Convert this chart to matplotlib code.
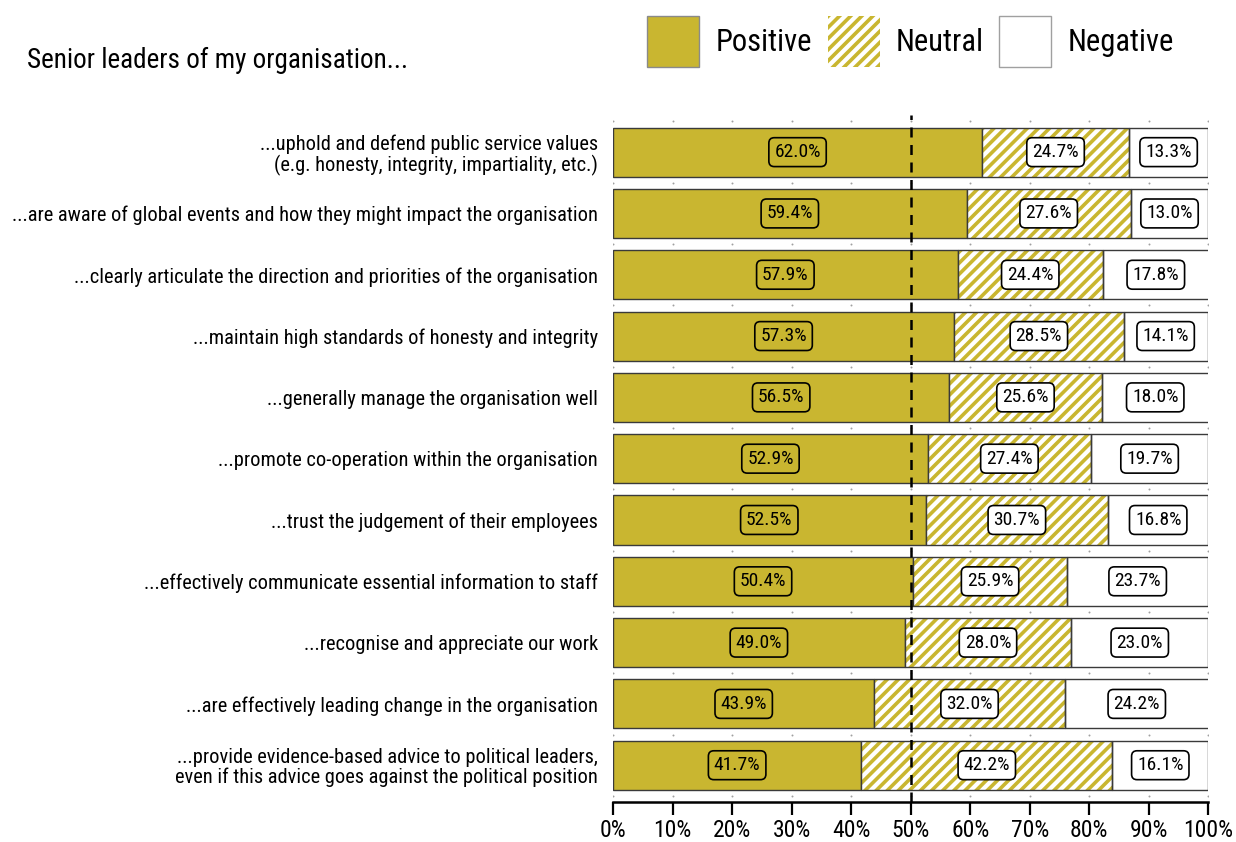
import matplotlib
matplotlib.use("Agg")
import matplotlib.pyplot as plt
from matplotlib.patches import Patch
import numpy as np

categories = [
    "...uphold and defend public service values\n(e.g. honesty, integrity, impartiality, etc.)",
    "...are aware of global events and how they might impact the organisation",
    "...clearly articulate the direction and priorities of the organisation",
    "...maintain high standards of honesty and integrity",
    "...generally manage the organisation well",
    "...promote co-operation within the organisation",
    "...trust the judgement of their employees",
    "...effectively communicate essential information to staff",
    "...recognise and appreciate our work",
    "...are effectively leading change in the organisation",
    "...provide evidence-based advice to political leaders,\neven if this advice goes against the political position",
]
positive = [62.0, 59.4, 57.9, 57.3, 56.5, 52.9, 52.5, 50.4, 49.0, 43.9, 41.7]
neutral = [24.7, 27.6, 24.4, 28.5, 25.6, 27.4, 30.7, 25.9, 28.0, 32.0, 42.2]
negative = [13.3, 13.0, 17.8, 14.1, 18.0, 19.7, 16.8, 23.7, 23.0, 24.2, 16.1]
xticks = [0, 10, 20, 30, 40, 50, 60, 70, 80, 90, 100]
title = "Senior leaders of my organisation..."
legend_labels = ["Positive", "Neutral", "Negative"]

OLIVE = "#C9B630"
EDGE = "#3a3a3a"

plt.rcParams["font.family"] = ["Roboto Condensed", "DejaVu Sans"]
plt.rcParams["hatch.linewidth"] = 2.6

fig = plt.figure(figsize=(12.36, 8.42), dpi=100)
ax = fig.add_axes([0.496, 0.0475, 0.4815, 0.8155])

y = np.arange(len(categories))
pos = np.array(positive)
neu = np.array(neutral)
neg = np.array(negative)
h = 0.8

# faint grid dots in the gaps between bars
gx, gy = np.meshgrid(xticks, np.arange(-0.5, len(categories), 1.0))
ax.scatter(gx.ravel(), gy.ravel(), s=2, color="#a0a0a0", zorder=1, linewidths=0)

ax.barh(y, pos, height=h, color=OLIVE, edgecolor=EDGE, linewidth=1.0, zorder=2)
ax.barh(y, neu, left=pos, height=h, color="white", edgecolor=OLIVE, hatch="///",
        linewidth=0, zorder=2)
ax.barh(y, neu, left=pos, height=h, fill=False, edgecolor=EDGE, linewidth=1.0, zorder=3)
ax.barh(y, neg, left=pos + neu, height=h, color="white", edgecolor=EDGE,
        linewidth=1.0, zorder=2)

box_kw = dict(boxstyle="round,pad=0.28,rounding_size=0.28", edgecolor="black", linewidth=1.2)
lab_fs = 14
for i in range(len(categories)):
    ax.text(pos[i] / 2, y[i], f"{pos[i]:.1f}%", ha="center", va="center", fontsize=lab_fs,
            zorder=5, bbox=dict(facecolor=OLIVE, **box_kw))
    ax.text(pos[i] + neu[i] / 2, y[i], f"{neu[i]:.1f}%", ha="center", va="center",
            fontsize=lab_fs, zorder=5, bbox=dict(facecolor="white", **box_kw))
    ax.text(pos[i] + neu[i] + neg[i] / 2, y[i], f"{neg[i]:.1f}%", ha="center", va="center",
            fontsize=lab_fs, zorder=5, bbox=dict(facecolor="white", **box_kw))

ax.axvline(50, color="black", linewidth=1.8, dashes=(4, 3), zorder=4)

ax.set_xlim(0, 100)
ax.set_ylim(len(categories) - 0.4, -0.6)
ax.set_yticks(y)
ax.set_yticklabels(categories, fontsize=14.7, ha="right", multialignment="right",
                   linespacing=1.05)
ax.tick_params(axis="y", length=0, pad=11)
ax.set_xticks(xticks)
ax.set_xticklabels([f"{t}%" for t in xticks], fontsize=17)
ax.tick_params(axis="x", length=9, width=1.6, direction="out", pad=3)
for s in ["top", "right", "left"]:
    ax.spines[s].set_visible(False)
ax.spines["bottom"].set_linewidth(1.8)
ax.spines["bottom"].set_zorder(6)

fig.text(0.022, 0.928, title, fontsize=19.5, ha="left", va="center")

handles = [
    Patch(facecolor=OLIVE, edgecolor="#8a8a8a", linewidth=1.0),
    Patch(facecolor="white", edgecolor=OLIVE, hatch="///", linewidth=0),
    Patch(facecolor="white", edgecolor="#a0a0a0", linewidth=1.0),
]
fig.legend(handles, legend_labels, loc="center", bbox_to_anchor=(0.7367, 0.9507), ncol=3,
           frameon=False, fontsize=22, handlelength=1.7, handleheight=2.15,
           handletextpad=0.52, columnspacing=0.52)

fig.savefig("out.png", dpi=100)
